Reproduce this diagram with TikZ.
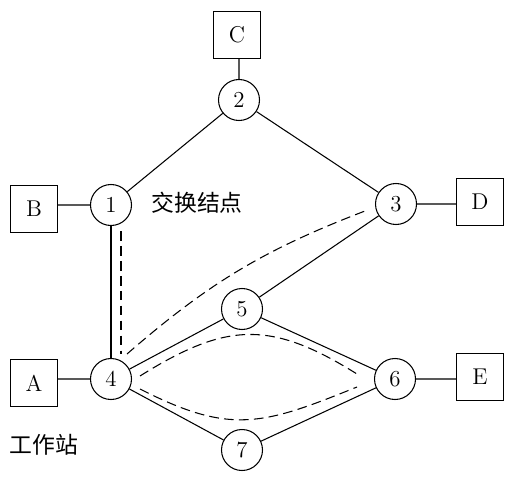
\documentclass[tikz,border=0pt]{standalone}
\usepackage{fontspec}
\usepackage{tikz}
\newfontfamily\cjk{Noto Sans CJK SC}
\tikzstyle{station} = [draw, rectangle, minimum size=0.94cm, inner sep=0pt, line width=0.6pt]
\tikzstyle{switch} = [draw, circle, minimum size=0.82cm, inner sep=0pt, line width=0.6pt]
\tikzstyle{link} = [line width=0.6pt]
\tikzstyle{route} = [line width=0.6pt, dash pattern=on 5.5pt off 3pt]

\begin{document}
\begin{tikzpicture}[scale=0.2]
        \useasboundingbox (0,0) rectangle (51.2,-48.3);
        \tikzstyle{every node}+=[font=\fontsize{13}{15}\selectfont]
        % switching nodes
        \node [switch] (n1) at (11.1,-20.5) {1};
        \node [switch] (n2) at (23.9,-10.0) {2};
        \node [switch] (n3) at (39.6,-20.4) {3};
        \node [switch] (n4) at (11.1,-37.9) {4};
        \node [switch] (n5) at (24.2,-30.9) {5};
        \node [switch] (n6) at (39.5,-37.9) {6};
        \node [switch] (n7) at (24.2,-45.0) {7};
        % stations
        \node [station] (A) at (3.4,-38.3) {A};
        \node [station] (B) at (3.4,-20.9) {B};
        \node [station] (C) at (23.7,-3.5) {C};
        \node [station] (D) at (48.0,-20.2) {D};
        \node [station] (E) at (48.0,-37.7) {E};
        \node (swlabel) at (19.7,-20.3) {\cjk 交换结点};
        \node (stlabel) at (4.4,-44.5) {\cjk 工作站};
        % links
        \draw [link] (n2) -- (n2 |- C.south);
        \draw [link] (n2) -- (n1);
        \draw [link] (n2) -- (n3);
        \draw [link] (n1) -- (n1 -| B.east);
        \draw [link] (n3) -- (n3 -| D.west);
        \draw [link] (n1) -- (n4);
        \draw [link] (n3) -- (n5);
        \draw [link] (n4) -- (n5);
        \draw [link] (n5) -- (n6);
        \draw [link] (n4) -- (n7);
        \draw [link] (n7) -- (n6);
        \draw [link] (n4) -- (n4 -| A.east);
        \draw [link] (n6) -- (n6 -| E.west);
        % routes
        \draw [route] ([shift={(1.0,-0.5)}]n1.south) -- ([shift={(1.0,0.4)}]n4.north);
        \draw [route] ([shift={(1.6,2.5)}]n4.center) to [bend left=10] ([shift={(-3.1,-0.7)}]n3.center);
        \draw [route] ([shift={(2.9,0.3)}]n4.center) to [out=32, in=148, looseness=1.2] ([shift={(-3.8,0.5)}]n6.center);
        \draw [route] ([shift={(2.9,-1.0)}]n4.center) to [out=-27, in=-158, looseness=1.2] ([shift={(-3.8,-0.8)}]n6.center);
\end{tikzpicture}
\end{document}
